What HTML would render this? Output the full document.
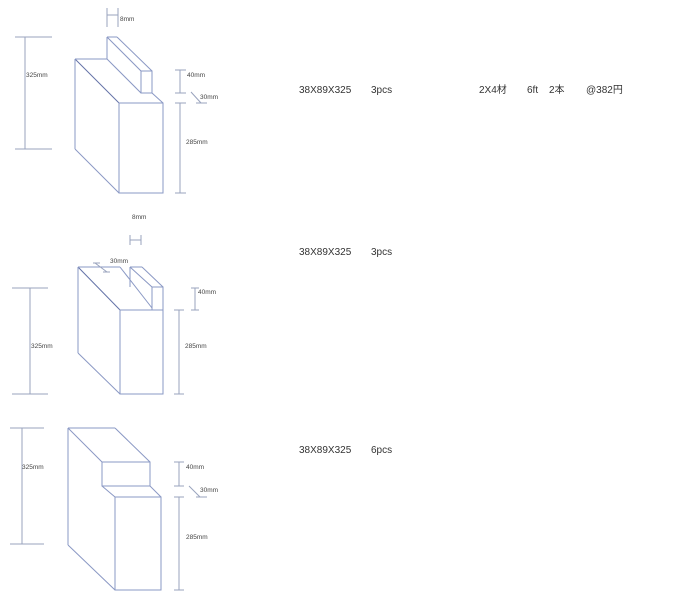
<!DOCTYPE html>
<html><head><meta charset="utf-8"><style>
body{margin:0;background:#fff;width:679px;height:614px;overflow:hidden;position:relative;font-family:"Liberation Sans","Noto Sans CJK JP",sans-serif}
svg{position:absolute;left:0;top:0}
.t{position:absolute;font-size:10px;color:#333;white-space:nowrap;line-height:1}
.s{position:absolute;font-size:6.5px;color:#444;white-space:nowrap;line-height:1}
</style></head><body>
<svg width="679" height="614" fill="none" stroke-width="1">
<g stroke="#8a98c4">
<!-- fig1 -->
<line x1="75" y1="59" x2="119" y2="103" stroke="#6473a8"/>
<line x1="75" y1="59" x2="75" y2="149"/>
<line x1="75" y1="149" x2="119" y2="193"/>
<rect x="119" y="103" width="44" height="90"/>
<line x1="75" y1="59" x2="107" y2="59"/>
<line x1="107" y1="37" x2="117" y2="37"/>
<line x1="107" y1="37" x2="107" y2="59"/>
<line x1="107" y1="37" x2="141" y2="71"/>
<line x1="117" y1="37" x2="152" y2="71"/>
<rect x="141" y="71" width="11" height="22"/>
<line x1="107" y1="59" x2="141" y2="93"/>
<line x1="152" y1="93" x2="163" y2="103"/>
<!-- fig2 -->
<line x1="78" y1="267" x2="120" y2="310" stroke="#6473a8"/>
<line x1="78" y1="267" x2="78" y2="353"/>
<line x1="78" y1="353" x2="120" y2="394"/>
<rect x="120" y="310" width="43" height="84"/>
<line x1="78" y1="267" x2="120" y2="267"/>
<line x1="120" y1="267" x2="152" y2="308"/>
<line x1="130" y1="267" x2="142" y2="267"/>
<line x1="130" y1="267" x2="130" y2="287"/>
<line x1="130" y1="267" x2="152" y2="287"/>
<line x1="142" y1="267" x2="163" y2="287"/>
<rect x="152" y="287" width="11" height="23"/>
<!-- fig3 -->
<line x1="68" y1="428" x2="68" y2="545"/>
<line x1="68" y1="428" x2="115" y2="428"/>
<line x1="115" y1="428" x2="150" y2="462"/>
<line x1="68" y1="428" x2="102" y2="462"/>
<rect x="102" y="462" width="48" height="24"/>
<line x1="102" y1="486" x2="115" y2="497"/>
<line x1="150" y1="486" x2="161" y2="497"/>
<rect x="115" y="497" width="46" height="93"/>
<line x1="68" y1="545" x2="115" y2="590"/>
</g>
<g stroke="#99a3bd">
<line x1="25" y1="37" x2="25" y2="149"/><line x1="15" y1="37" x2="52" y2="37"/><line x1="15" y1="149" x2="52" y2="149"/>
<line x1="107" y1="8" x2="107" y2="27"/><line x1="118" y1="8" x2="118" y2="27"/><line x1="107" y1="15" x2="118" y2="15"/>
<line x1="180" y1="70" x2="180" y2="93"/><line x1="175" y1="70" x2="186" y2="70"/><line x1="175" y1="93" x2="186" y2="93"/>
<line x1="191" y1="92" x2="201" y2="103"/><line x1="196" y1="103" x2="207" y2="103"/>
<line x1="180" y1="103" x2="180" y2="193"/><line x1="175" y1="103" x2="186" y2="103"/><line x1="175" y1="193" x2="186" y2="193"/>
<line x1="130" y1="235" x2="130" y2="245"/><line x1="141" y1="235" x2="141" y2="245"/><line x1="130" y1="240" x2="141" y2="240"/>
<line x1="95" y1="263" x2="107" y2="272"/><line x1="93" y1="263" x2="100" y2="263"/><line x1="103" y1="272" x2="110" y2="272"/>
<line x1="195" y1="288" x2="195" y2="310"/><line x1="191" y1="288" x2="199" y2="288"/><line x1="191" y1="310" x2="199" y2="310"/>
<line x1="179" y1="310" x2="179" y2="394"/><line x1="174" y1="310" x2="184" y2="310"/><line x1="174" y1="394" x2="184" y2="394"/>
<line x1="30" y1="288" x2="30" y2="394"/><line x1="12" y1="288" x2="48" y2="288"/><line x1="12" y1="394" x2="48" y2="394"/>
<line x1="22" y1="428" x2="22" y2="544"/><line x1="10" y1="428" x2="44" y2="428"/><line x1="10" y1="544" x2="44" y2="544"/>
<line x1="179" y1="462" x2="179" y2="486"/><line x1="174" y1="462" x2="184" y2="462"/><line x1="174" y1="486" x2="184" y2="486"/>
<line x1="189" y1="486" x2="200" y2="497"/><line x1="196" y1="497" x2="207" y2="497"/>
<line x1="179" y1="497" x2="179" y2="590"/><line x1="174" y1="497" x2="184" y2="497"/><line x1="174" y1="590" x2="184" y2="590"/>
</g>
</svg>
<div class="s" style="left:26px;top:73px">325mm</div>
<div class="s" style="left:120px;top:17px">8mm</div>
<div class="s" style="left:187px;top:73px">40mm</div>
<div class="s" style="left:200px;top:95px">30mm</div>
<div class="s" style="left:186px;top:140px">285mm</div>

<div class="s" style="left:132px;top:215px">8mm</div>
<div class="s" style="left:110px;top:259px">30mm</div>
<div class="s" style="left:198px;top:290px">40mm</div>
<div class="s" style="left:185px;top:344px">285mm</div>
<div class="s" style="left:31px;top:344px">325mm</div>

<div class="s" style="left:22px;top:465px">325mm</div>
<div class="s" style="left:186px;top:465px">40mm</div>
<div class="s" style="left:200px;top:488px">30mm</div>
<div class="s" style="left:186px;top:535px">285mm</div>

<div class="t" style="left:299px;top:86px">38X89X325</div>
<div class="t" style="left:371px;top:86px">3pcs</div>
<div class="t" style="left:479px;top:86px">2X4材</div>
<div class="t" style="left:527px;top:86px">6ft</div>
<div class="t" style="left:549px;top:86px">2本</div>
<div class="t" style="left:586px;top:86px">@382円</div>
<div class="t" style="left:299px;top:248px">38X89X325</div>
<div class="t" style="left:371px;top:248px">3pcs</div>
<div class="t" style="left:299px;top:446px">38X89X325</div>
<div class="t" style="left:371px;top:446px">6pcs</div>
</body></html>
